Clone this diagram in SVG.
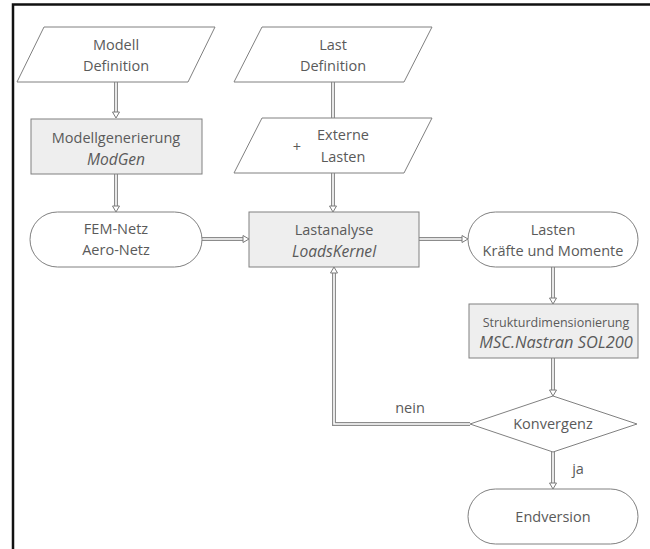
<svg xmlns="http://www.w3.org/2000/svg" width="650" height="549" viewBox="0 0 650 549">
<style>
.shape{fill:#ffffff;stroke:#808080;stroke-width:1}
.box{fill:#eeeeee;stroke:#808080;stroke-width:1}
text{font-family:"Open Sans","Liberation Sans",sans-serif;font-size:14.5px;fill:#5a5a5a;text-anchor:middle}
.it{font-style:italic;font-size:15.6px}
.big{font-size:16.4px}
.small{font-size:12.5px}
.co{fill:none;stroke:#8c8c8c;stroke-width:4}
.ci{fill:none;stroke:#ffffff;stroke-width:1.6}
.frame{stroke:#111111;stroke-width:2.5;fill:none}
</style>
<defs>
<marker id="ah" markerUnits="userSpaceOnUse" markerWidth="10" markerHeight="10" refX="0" refY="4" orient="auto" overflow="visible">
<polygon points="0,0.5 6,4 0,7.5" fill="#ffffff" stroke="#7a7a7a" stroke-width="1"/>
</marker>
</defs>
<rect width="650" height="549" fill="#ffffff"/>
<path class="frame" d="M13,549 V4.5 H650"/>

<g id="connectors">
<path class="co" d="M116,82 V112"/><path class="ci" d="M116,82 V112" marker-end="url(#ah)"/>
<path class="co" d="M116,174 V206"/><path class="ci" d="M116,174 V206" marker-end="url(#ah)"/>
<path class="co" d="M333,82 V118"/><path class="ci" d="M333,82 V118"/>
<path class="co" d="M333,173 V206"/><path class="ci" d="M333,173 V206" marker-end="url(#ah)"/>
<path class="co" d="M202,239 H243"/><path class="ci" d="M202,239 H243" marker-end="url(#ah)"/>
<path class="co" d="M419,239 H462"/><path class="ci" d="M419,239 H462" marker-end="url(#ah)"/>
<path class="co" d="M553,267 V298"/><path class="ci" d="M553,267 V298" marker-end="url(#ah)"/>
<path class="co" d="M553,358 V390"/><path class="ci" d="M553,358 V390" marker-end="url(#ah)"/>
<path class="co" d="M553,452 V483"/><path class="ci" d="M553,452 V483" marker-end="url(#ah)"/>
<path class="co" d="M470,424 H334 V273"/><path class="ci" d="M470,424 H334 V273" marker-end="url(#ah)"/>
<text x="410" y="413">nein</text>
<text x="578" y="474">ja</text>
</g>

<g id="modell-definition">
<polygon class="shape" points="44,27 215,27 188,82 17,82"/>
<text x="116" y="50">Modell</text>
<text x="116" y="71">Definition</text>
</g>

<g id="modellgenerierung">
<rect class="box" x="31" y="119" width="171" height="55"/>
<text x="116" y="143">Modellgenerierung</text>
<text x="116" y="165" class="it">ModGen</text>
</g>

<g id="fem-netz">
<rect class="shape" x="30" y="212" width="172" height="55" rx="27.5"/>
<text x="116" y="234">FEM-Netz</text>
<text x="116" y="255">Aero-Netz</text>
</g>

<g id="last-definition">
<polygon class="shape" points="262,27 432,27 404,82 234,82"/>
<text x="333" y="50">Last</text>
<text x="333" y="71">Definition</text>
</g>

<g id="externe-lasten">
<polygon class="shape" points="262,118 432,118 404,173 234,173"/>
<text x="297" y="152">+</text>
<text x="343" y="140">Externe</text>
<text x="343" y="162">Lasten</text>
</g>

<g id="lastanalyse">
<rect class="box" x="249" y="212" width="170" height="55"/>
<text x="334" y="235">Lastanalyse</text>
<text x="334" y="257" class="it">LoadsKernel</text>
</g>

<g id="lasten">
<rect class="shape" x="468" y="212" width="170" height="55" rx="27.5"/>
<text x="553" y="235">Lasten</text>
<text x="553" y="256">Kräfte und Momente</text>
</g>

<g id="strukturdimensionierung">
<rect class="box" x="469" y="304" width="169" height="54"/>
<text x="556" y="327" class="small">Strukturdimensionierung</text>
<text x="556" y="348" class="it big">MSC.Nastran SOL200</text>
</g>

<g id="konvergenz">
<polygon class="shape" points="553,396 637,424 553,452 470,424"/>
<text x="553" y="429">Konvergenz</text>
</g>

<g id="endversion">
<rect class="shape" x="468" y="489" width="170" height="55" rx="27.5"/>
<text x="553" y="522">Endversion</text>
</g>
</svg>
